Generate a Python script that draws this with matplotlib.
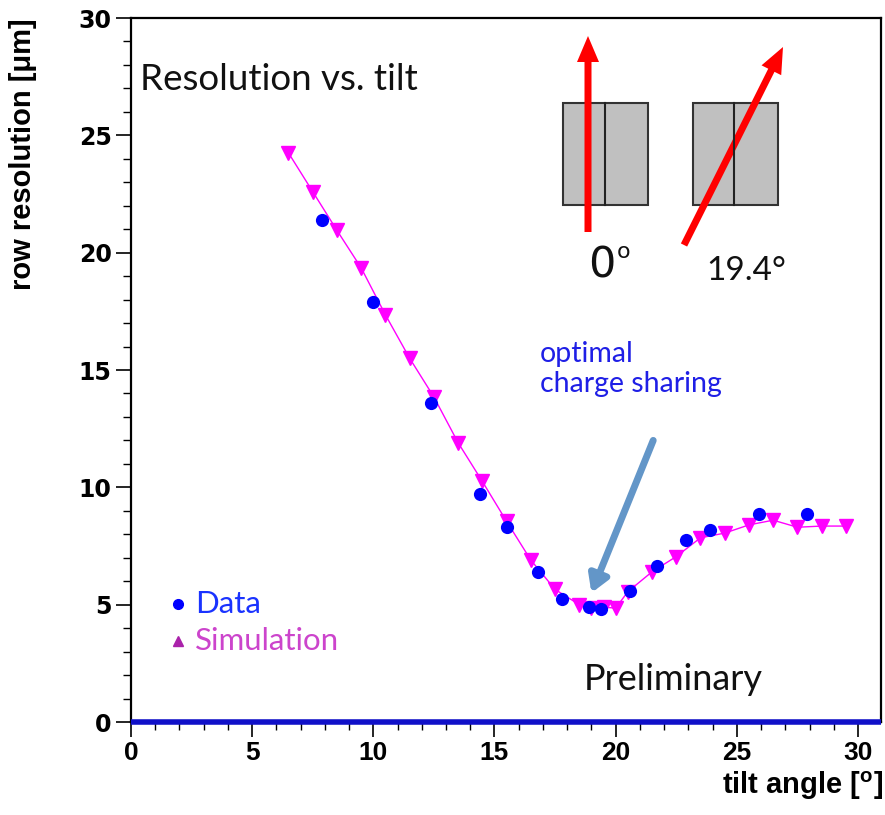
import numpy as np
import matplotlib.pyplot as plt
from matplotlib.patches import Rectangle, FancyArrow
from matplotlib.ticker import MultipleLocator

# measured row resolution (blue points)
data_angle = [7.9, 10.0, 12.4, 14.4, 15.5, 16.8, 17.8, 18.9, 19.4, 20.6, 21.7, 22.9, 23.9, 25.9, 27.9]
data_res = [21.4, 17.9, 13.6, 9.7, 8.3, 6.4, 5.25, 4.9, 4.8, 5.6, 6.65, 7.75, 8.2, 8.85, 8.85]

# simulated row resolution (magenta)
sim_angle = [6.5, 7.5, 8.5, 9.5, 10.5, 11.5, 12.5, 13.5, 14.5, 15.5, 16.5, 17.5, 18.5,
             19.0, 19.5, 20.0, 20.5, 21.5, 22.5, 23.5, 24.5, 25.5, 26.5, 27.5, 28.5, 29.5]
sim_res = [24.25, 22.6, 20.95, 19.35, 17.35, 15.5, 13.85, 11.9, 10.25, 8.55, 6.9, 5.65, 5.0,
           4.85, 4.9, 4.85, 5.55, 6.4, 7.05, 7.85, 8.05, 8.4, 8.6, 8.3, 8.35, 8.35]

x_ticks = [0, 5, 10, 15, 20, 25, 30]
y_ticks = [0, 5, 10, 15, 20, 25, 30]

label_font = ['Liberation Sans Narrow', 'Liberation Sans']

fig = plt.figure(figsize=(8.85, 8.15), dpi=100)
ax = fig.add_axes([0.148, 0.1141, 0.8475, 0.8638])

ax.plot(sim_angle, sim_res, color='#ff00ff', lw=1.0, marker='v', ms=9.5,
        markeredgecolor='#ff00ff', zorder=3)
ax.plot(data_angle, data_res, 'o', color='#0000ff', ms=9.5, markeredgewidth=0, zorder=4)

# thick baseline at zero
ax.axhline(0, color='#1010c8', lw=4, zorder=5, clip_on=False, solid_capstyle='butt')

ax.set_xlim(0, 30.95)
ax.set_ylim(0, 30)
ax.set_xticks(x_ticks)
ax.set_yticks(y_ticks)
ax.xaxis.set_minor_locator(MultipleLocator(1))
ax.yaxis.set_minor_locator(MultipleLocator(1))
ax.tick_params(which='major', direction='out', length=11, width=1.2, pad=3)
ax.tick_params(which='minor', direction='out', length=6, width=1.0)
for lbl in ax.get_yticklabels():
    lbl.set_fontfamily('DejaVu Sans')
    lbl.set_fontweight('bold')
    lbl.set_fontsize(17)
for lbl in ax.get_xticklabels():
    lbl.set_fontfamily(label_font)
    lbl.set_fontweight('bold')
    lbl.set_fontsize(19)
for s in ax.spines.values():
    s.set_linewidth(1.6)

ax.set_xlabel(r'tilt angle [$^\mathregular{o}$]', family=label_font,
              fontweight='bold', fontsize=21, loc='right')
ax.xaxis.set_label_coords(1.003, -0.068)
ax.set_ylabel('row resolution [\u03bcm]', family=label_font,
              fontweight='bold', fontsize=21, loc='top')
ax.yaxis.set_label_coords(-0.125, 1.0)

# annotations
ax.text(0.012, 0.898, 'Resolution vs. tilt', transform=ax.transAxes, family='Lato',
        fontsize=26.5, color='#111111', va='baseline')
ax.text(0.603, 0.046, 'Preliminary', transform=ax.transAxes, family='Lato',
        fontsize=26, color='#111111', va='baseline')
ax.text(0.545, 0.469, 'optimal\ncharge sharing', transform=ax.transAxes, family='Lato',
        fontsize=20.5, color='#1f1fe6', va='baseline', linespacing=1.2)
ax.annotate('', xy=(19.0, 5.5), xytext=(21.55, 12.0),
            arrowprops=dict(arrowstyle='-|>,head_length=1.0,head_width=0.6',
                            color='#6396c8', lw=5, shrinkA=0, shrinkB=0), zorder=6)

# legend
ax.plot([0.063], [0.168], 'o', color='#0000ff', ms=7, transform=ax.transAxes, clip_on=False)
ax.plot([0.063], [0.115], '^', color='#aa22aa', ms=7, transform=ax.transAxes, clip_on=False)
ax.text(0.085, 0.168, 'Data', transform=ax.transAxes, family='Lato', fontsize=22.5,
        color='#1a33ff', va='center')
ax.text(0.085, 0.115, 'Simulation', transform=ax.transAxes, family='Lato', fontsize=22.5,
        color='#cc44cc', va='center')

# pixel sketch: two pixels crossed by a track at 0 and 19.4 degrees
sk = fig.add_axes([540 / 885, 1 - 290 / 815, 260 / 885, 260 / 815])
sk.set_xlim(540, 800)
sk.set_ylim(290, 30)
sk.axis('off')
for x0, mid in [(563, 605), (693, 734)]:
    sk.add_patch(Rectangle((x0, 103), 85, 102, facecolor='#c0c0c0', edgecolor='#333333', lw=1.5))
    sk.plot([mid, mid], [103, 205], color='#222222', lw=1.5)
sk.add_patch(FancyArrow(588, 232, 0, -170, width=7, head_width=22, head_length=26,
                        length_includes_head=False, color='#ff0000', lw=0))
dx, dy = 783 - 684, 47 - 245
L = np.hypot(dx, dy)
sk.add_patch(FancyArrow(684, 245, dx * (L - 26) / L, dy * (L - 26) / L, width=7, head_width=22,
                        head_length=26, length_includes_head=False, color='#ff0000', lw=0))
sk.text(588, 277, '0', family='DejaVu Sans', fontsize=31, color='#111111', va='baseline')
sk.text(617, 258, 'o', family='DejaVu Sans', fontsize=16, color='#111111', va='baseline')
sk.text(706, 280, '19.4\u00b0', family='Lato', fontsize=24, color='#111111', va='baseline')

fig.savefig('out.png', dpi=100)
